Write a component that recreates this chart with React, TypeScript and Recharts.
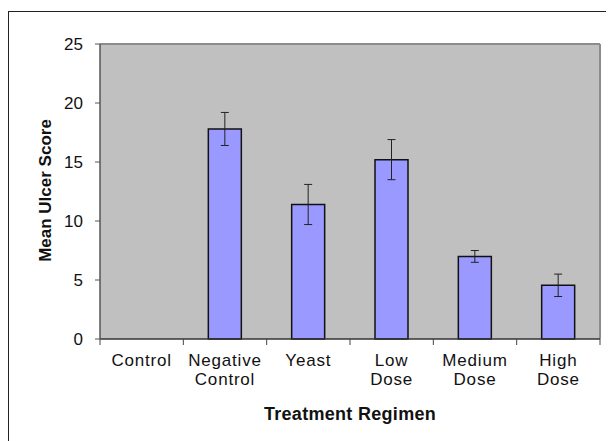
import { ComposedChart, Bar, XAxis, YAxis, CartesianGrid, ErrorBar, Label } from 'recharts'

const categories = ['Control', 'Negative Control', 'Yeast', 'Low Dose', 'Medium Dose', 'High Dose']
const labelLines = [['Control'], ['Negative', 'Control'], ['Yeast'], ['Low', 'Dose'], ['Medium', 'Dose'], ['High', 'Dose']]
const meanScores = [0, 17.8, 11.4, 15.2, 7.0, 4.55]
const errors = [0, 1.4, 1.7, 1.7, 0.5, 0.95]
const yTicks = [0, 5, 10, 15, 20, 25]

const data = categories.map((name, i) => ({ name, mean: meanScores[i], err: errors[i] }))

const TICK = 6

function XTick(props: any) {
  const { x, y, index, width, visibleTicksCount } = props
  const n = visibleTicksCount || categories.length
  const band = (width || 500) / n
  const axisY = y - TICK
  const lines = labelLines[index] || [props.payload?.value]
  return (
    <g>
      <line x1={x - band / 2} y1={axisY} x2={x - band / 2} y2={axisY + TICK} stroke="#444" />
      {index === n - 1 && <line x1={x + band / 2} y1={axisY} x2={x + band / 2} y2={axisY + TICK} stroke="#444" />}
      <text x={x} y={axisY + 27} textAnchor="middle" fontSize={17} letterSpacing={0.8} fill="#111">
        {lines.map((l: string, i: number) => (
          <tspan key={i} x={x} dy={i === 0 ? 0 : 19}>
            {l}
          </tspan>
        ))}
      </text>
    </g>
  )
}

export default function App() {
  return (
    <>
      <style>{'body{overflow:hidden}'}</style>
      <div
        style={{
          marginTop: 3,
          width: 620,
          height: 440,
          borderTop: '1px solid #222',
          borderLeft: '1px solid #222',
          fontFamily: '"Liberation Sans", Arial, sans-serif',
        }}
      >
        <ComposedChart
          width={605}
          height={429}
          data={data}
          margin={{ top: 32, right: 14, left: 0, bottom: 0 }}
          barCategoryGap="30%"
        >
          <CartesianGrid
            fill="#C0C0C0"
            stroke="#8c8c8c"
            strokeWidth={2}
            horizontalCoordinatesGenerator={({ offset }: any) => [offset.top]}
            verticalCoordinatesGenerator={({ offset }: any) => [offset.left + offset.width]}
          />
          <XAxis
            dataKey="name"
            height={102}
            tickSize={TICK}
            tickMargin={0}
            tickLine={false}
            axisLine={{ stroke: '#333', strokeWidth: 1.5 }}
            interval={0}
            tick={<XTick />}
          >
            <Label
              content={(p: any) => {
                const vb = p.viewBox || { x: 91, y: 327, width: 500, height: 102 }
                return (
                  <text
                    x={vb.x + vb.width / 2}
                    y={vb.y + 81}
                    textAnchor="middle"
                    fontWeight="bold"
                    fontSize={18}
                    letterSpacing={0.3}
                    fill="#111"
                  >
                    Treatment Regimen
                  </text>
                )
              }}
            />
          </XAxis>
          <YAxis
            width={91}
            domain={[0, 25]}
            ticks={yTicks}
            tickSize={5}
            tickMargin={12}
            axisLine={{ stroke: '#555', strokeWidth: 1.5 }}
            tickLine={{ stroke: '#555' }}
            tick={{ fontSize: 17, fill: '#111' }}
          >
            <Label
              content={(p: any) => {
                const vb = p.viewBox || { x: 0, y: 32, width: 91, height: 295 }
                const cx = vb.x + 36
                const cy = vb.y + vb.height / 2 - 1
                return (
                  <text
                    x={cx}
                    y={cy}
                    transform={`rotate(-90 ${cx} ${cy})`}
                    textAnchor="middle"
                    dominantBaseline="central"
                    fontWeight="bold"
                    fontSize={17}
                    fill="#111"
                  >
                    Mean Ulcer Score
                  </text>
                )
              }}
            />
          </YAxis>
          <Bar dataKey="mean" fill="#9999FF" stroke="#111" strokeWidth={1.5} isAnimationActive={false}>
            <ErrorBar dataKey="err" width={4} stroke="#222" strokeWidth={1} />
          </Bar>
        </ComposedChart>
      </div>
    </>
  )
}
